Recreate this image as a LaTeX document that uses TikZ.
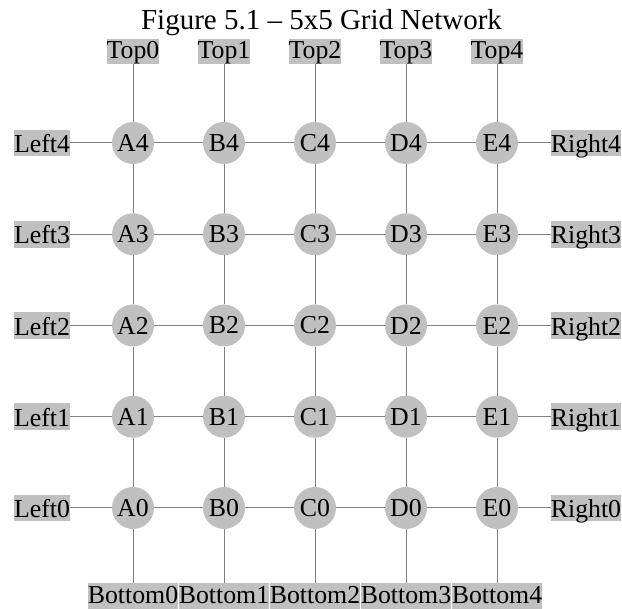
\documentclass[tikz,border=0pt]{standalone}
\usepackage{fontspec}
\setmainfont{Liberation Serif}
\usetikzlibrary{positioning}
\definecolor{silver}{HTML}{C0C0C0}
\definecolor{linkgray}{HTML}{808080}

\begin{document}
\begin{tikzpicture}[x=1pt, y=1pt,
    font=\fontsize{25.8pt}{30pt}\selectfont,
    hub/.style={circle, fill=silver, minimum size=42pt, inner sep=0pt},
    port/.style={fill=silver, inner sep=0pt, text height=19.3pt, text depth=6pt},
    sideport/.style={port, text height=23pt, text depth=3.7pt},
    lowport/.style={port, text height=20.7pt, text depth=5pt},
    link/.style={draw=linkgray, line width=1pt}
]
\useasboundingbox (0,0) rectangle (622,609);
\node[anchor=base, font=\fontsize{29pt}{34pt}\selectfont] (title) at (321.5,579.7) {Figure 5.1 -- 5x5 Grid Network};

% grid of hubs
\foreach \col [count=\i from 0] in {A,B,C,D,E} {
  \foreach \row in {0,...,4} {
    \node[hub] (\col\row) at (133+91*\i, 101+91.25*\row) {\col\row};
  }
}
\foreach \a/\b in {A/B,B/C,C/D,D/E} {
  \foreach \row in {0,...,4} {
    \draw[link] (\a\row) -- (\b\row);
  }
}
\foreach \col in {A,B,C,D,E} {
  \foreach \row/\up in {0/1,1/2,2/3,3/4} {
    \draw[link] (\col\row) -- (\col\up);
  }
}

% border ports
\foreach \col [count=\i from 0] in {A,B,C,D,E} {
  \node[port] (top\i) at (133+91*\i, 557.35) {Top\i};
  \node[lowport] (bottom\i) at (133+91*\i, 12.85) {Bottom\i};
  \draw[link] (top\i) -- (\col4);
  \draw[link] (\col0) -- (bottom\i);
}
\foreach \row in {0,...,4} {
  \node[sideport] (left\row) at (42, 101+91.25*\row) {Left\row};
  \node[sideport] (right\row) at (586, 101+91.25*\row) {Right\row};
  \draw[link] (left\row) -- (A\row);
  \draw[link] (E\row) -- (right\row);
}
\end{tikzpicture}
\end{document}
